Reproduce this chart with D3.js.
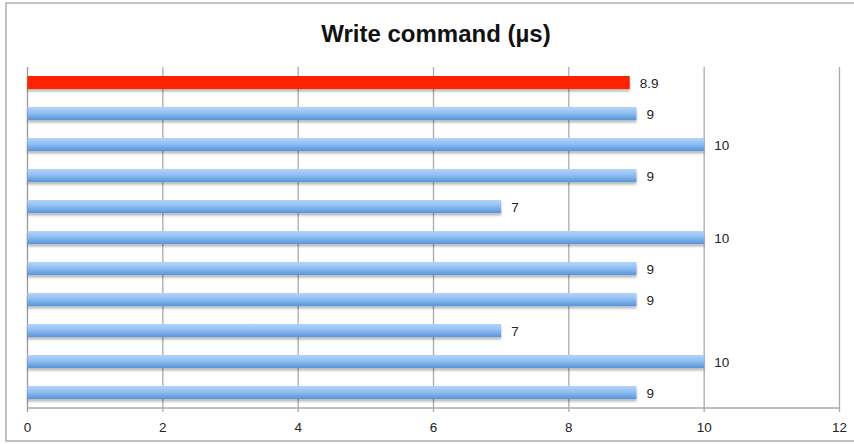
<!DOCTYPE html>
<html>
<head>
<meta charset="utf-8">
<script src="https://cdn.jsdelivr.net/npm/d3@7"></script>
<style>
  html, body { margin: 0; padding: 0; background: #fff; }
  svg { display: block; }
  text { font-family: "Liberation Sans", Arial, Helvetica, sans-serif; }
</style>
</head>
<body>
<svg id="chart" width="854" height="444"></svg>
<script>
// Write-command latency per run, in microseconds (top to bottom)
const runs = ["Run 1", "Run 2", "Run 3", "Run 4", "Run 5", "Run 6", "Run 7", "Run 8", "Run 9", "Run 10", "Run 11"];
const values = [8.9, 9, 10, 9, 7, 10, 9, 9, 7, 10, 9];
const highlighted = ["Run 1"];
const xTicks = [0, 2, 4, 6, 8, 10, 12];
const title = "Write command (µs)";

const svg = d3.select("#chart");
const plot = { left: 27.5, right: 839.5, top: 67, bottom: 408 };

// frame around the whole chart
svg.append("rect")
  .attr("x", 6).attr("y", 3).attr("width", 856).attr("height", 438)
  .attr("fill", "#fff").attr("stroke", "#adadad").attr("stroke-width", 1.5);

const defs = svg.append("defs");
const grad = defs.append("linearGradient")
  .attr("id", "barBlue").attr("x1", 0).attr("y1", 0).attr("x2", 0).attr("y2", 1);
grad.append("stop").attr("offset", "0%").attr("stop-color", "#b3d4fb");
grad.append("stop").attr("offset", "45%").attr("stop-color", "#92bff1");
grad.append("stop").attr("offset", "100%").attr("stop-color", "#5894da");

const shadow = defs.append("filter").attr("id", "barShadow")
  .attr("x", "-5%").attr("y", "-50%").attr("width", "110%").attr("height", "220%");
shadow.append("feDropShadow")
  .attr("dx", 0).attr("dy", 2.5).attr("stdDeviation", 1.2)
  .attr("flood-color", "#000").attr("flood-opacity", 0.28);

const x = d3.scaleLinear().domain([0, 12]).range([plot.left, plot.right]);
const y = d3.scaleBand().domain(runs).range([plot.top, plot.bottom]).paddingInner(0.58).paddingOuter(0.29);

// title
svg.append("text")
  .attr("x", 436).attr("y", 42)
  .attr("text-anchor", "middle")
  .attr("font-size", 24).attr("font-weight", "bold").attr("fill", "#111")
  .text(title);

// vertical grid lines
svg.append("g").selectAll("line")
  .data(xTicks)
  .join("line")
  .attr("x1", d => x(d)).attr("x2", d => x(d))
  .attr("y1", plot.top).attr("y2", plot.bottom + 4)
  .attr("stroke", d => d === 0 ? "#999" : "#aaa").attr("stroke-width", 1.3);

// bottom axis line
svg.append("line")
  .attr("x1", x(0)).attr("x2", x(12))
  .attr("y1", plot.bottom).attr("y2", plot.bottom)
  .attr("stroke", "#aaa").attr("stroke-width", 1.3);

// tick labels
svg.append("g").selectAll("text")
  .data(xTicks)
  .join("text")
  .attr("x", d => x(d)).attr("y", 432)
  .attr("text-anchor", "middle")
  .attr("font-size", 13.5).attr("fill", "#222")
  .text(d => d);

// bars
const bars = runs.map((r, i) => ({ run: r, value: values[i] }));
svg.append("g").selectAll("rect")
  .data(bars)
  .join("rect")
  .attr("x", x(0))
  .attr("y", d => y(d.run))
  .attr("width", d => x(d.value) - x(0))
  .attr("height", y.bandwidth())
  .attr("fill", d => highlighted.includes(d.run) ? "#ff2300" : "url(#barBlue)")
  .attr("filter", "url(#barShadow)");

// value labels
svg.append("g").selectAll("text")
  .data(bars)
  .join("text")
  .attr("x", d => x(d.value) + 10)
  .attr("y", d => y(d.run) + y.bandwidth() / 2 + 5)
  .attr("font-size", 13.5).attr("fill", "#222")
  .text(d => d.value);
</script>
</body>
</html>
